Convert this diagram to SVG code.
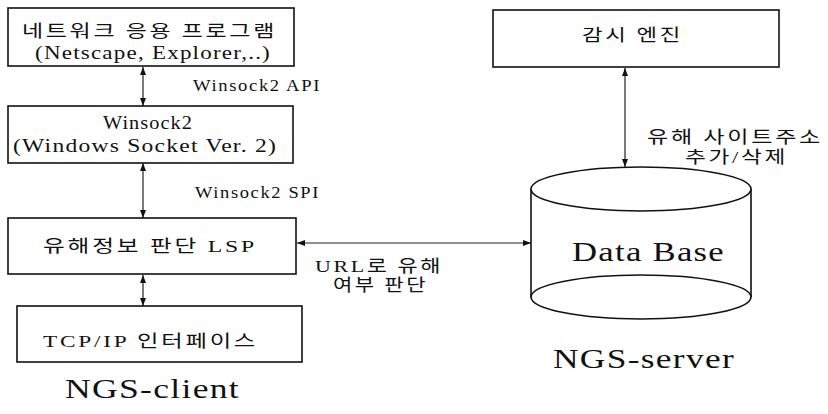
<svg xmlns="http://www.w3.org/2000/svg" width="828" height="414" viewBox="0 0 828 414">
  <defs>
    <marker id="ah" viewBox="0 0 8 6" refX="8" refY="3" markerWidth="8" markerHeight="6" markerUnits="userSpaceOnUse" orient="auto-start-reverse">
      <path d="M0,0 L8,3 L0,6 Z" fill="#111"/>
    </marker>
  </defs>
  <style>
    .box { fill: #fff; stroke: #111; stroke-width: 1.6; }
    .conn { fill: none; stroke: #222; stroke-width: 1.2; marker-start: url(#ah); marker-end: url(#ah); }
    .t { font-family: "Liberation Serif", "Noto Sans CJK KR", serif; fill: #111; }
    .k { font-size: 17px; letter-spacing: 2px; }
    .l { font-size: 19px; letter-spacing: 1px; }
    .m { font-size: 17px; letter-spacing: 1.5px; }
    .big { font-size: 27px; letter-spacing: 1px; }
  </style>
  <rect width="828" height="414" fill="#fff"/>

  <g id="connectors">
    <line class="conn" x1="143" y1="67" x2="143" y2="106"/>
    <line class="conn" x1="143" y1="163" x2="143" y2="218"/>
    <line class="conn" x1="143" y1="275" x2="143" y2="306"/>
    <line class="conn" x1="297" y1="243" x2="531" y2="243"/>
    <line class="conn" x1="625" y1="68" x2="625" y2="167"/>
  </g>

  <g id="labels">
    <text class="t m" x="193" y="91" textLength="128" lengthAdjust="spacingAndGlyphs">Winsock2 API</text>
    <text class="t m" x="195" y="198" textLength="125" lengthAdjust="spacingAndGlyphs">Winsock2 SPI</text>
    <text class="t k" x="315" y="272" textLength="128" lengthAdjust="spacingAndGlyphs">URL로 유해</text>
    <text class="t k" x="333" y="291" textLength="95" lengthAdjust="spacingAndGlyphs">여부 판단</text>
    <text class="t k" x="647" y="143" textLength="176" lengthAdjust="spacingAndGlyphs">유해 사이트주소</text>
    <text class="t k" x="685" y="163" textLength="103" lengthAdjust="spacingAndGlyphs">추가/삭제</text>
  </g>

  <g id="node-app">
    <rect class="box" x="8" y="8" width="286" height="58"/>
    <text class="t k" x="22" y="37" textLength="255" lengthAdjust="spacingAndGlyphs">네트워크 응용 프로그램</text>
    <text class="t l" x="35" y="59" textLength="236" lengthAdjust="spacingAndGlyphs">(Netscape, Explorer,..)</text>
  </g>

  <g id="node-winsock">
    <rect class="box" x="8" y="106" width="285" height="57"/>
    <text class="t l" x="103" y="129" textLength="90" lengthAdjust="spacingAndGlyphs">Winsock2</text>
    <text class="t l" x="13" y="152" textLength="264" lengthAdjust="spacingAndGlyphs">(Windows Socket Ver. 2)</text>
  </g>

  <g id="node-lsp">
    <rect class="box" x="8" y="218" width="288" height="56"/>
    <text class="t k" x="43" y="252" textLength="214" lengthAdjust="spacingAndGlyphs">유해정보 판단 LSP</text>
  </g>

  <g id="node-tcpip">
    <rect class="box" x="17" y="306" width="285" height="56"/>
    <text class="t k" x="43" y="347" textLength="215" lengthAdjust="spacingAndGlyphs">TCP/IP 인터페이스</text>
  </g>

  <g id="node-client-label">
    <text class="t big" x="65" y="398" textLength="175" lengthAdjust="spacingAndGlyphs">NGS-client</text>
  </g>

  <g id="node-monitor">
    <rect class="box" x="493" y="10" width="286" height="57"/>
    <text class="t k" x="582" y="41" textLength="101" lengthAdjust="spacingAndGlyphs">감시 엔진</text>
  </g>

  <g id="node-database">
    <path class="box" d="M531,189 L531,297 A110,22 0 0 0 751,297 L751,189"/>
    <ellipse class="box" cx="641" cy="189" rx="110" ry="22"/>
    <path d="M531,297 A110,22 0 0 1 751,297" fill="none" stroke="#111" stroke-width="1.6"/>
    <text class="t big" x="572" y="261" textLength="153" lengthAdjust="spacingAndGlyphs">Data Base</text>
  </g>

  <g id="node-server-label">
    <text class="t big" x="553" y="368" textLength="182" lengthAdjust="spacingAndGlyphs">NGS-server</text>
  </g>
</svg>
